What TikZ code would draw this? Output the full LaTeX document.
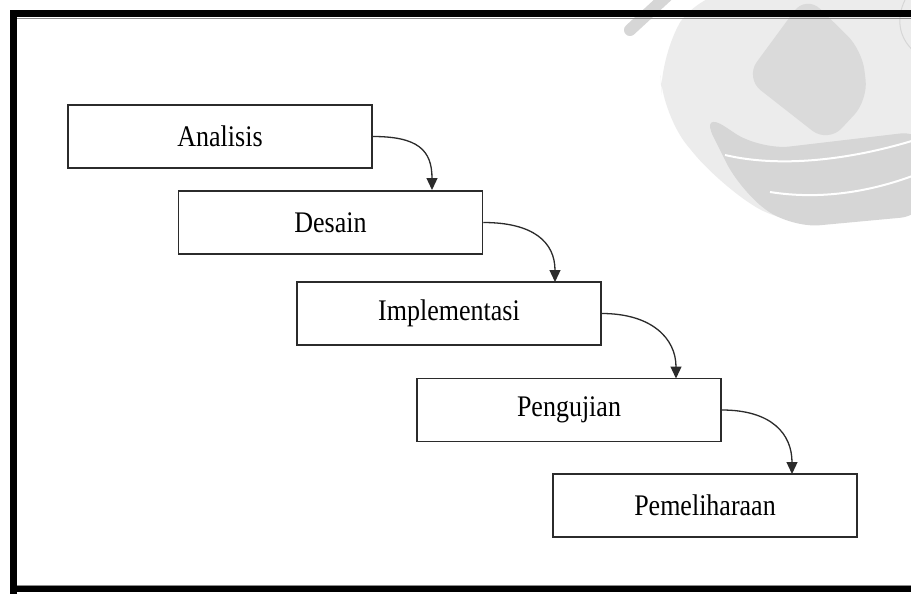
\documentclass[tikz,border=0pt]{standalone}
\usepackage{fontspec}
\setmainfont{Liberation Serif}
\usetikzlibrary{arrows.meta}
\definecolor{wmA}{HTML}{ECECEC}
\definecolor{wmB}{HTML}{DADADA}
\definecolor{wmC}{HTML}{D6D6D6}
\definecolor{boxline}{HTML}{2B2B2B}
\newcommand{\stagetext}[1]{\scalebox{1}[1.15]{#1}}
\tikzset{
  stage/.style={draw=boxline, line width=1.5pt, fill=white, minimum width=304pt, minimum height=63pt, inner sep=0pt, font=\fontsize{26}{29}\selectfont},
  flow/.style={draw=boxline, line width=1.3pt, -{Triangle[length=12pt,width=11pt]}},
}
\begin{document}
\begin{tikzpicture}[x=1pt,y=-1pt]
\useasboundingbox (0,0) rectangle (911,594);
\fill[white] (0,0) rectangle (911,594);
% watermark (faint logo)
\begin{scope}
\clip (0,0) rectangle (911,594);
\fill[wmA, rounded corners=40pt] (700,-10) -- (930,-10) -- (930,210) -- (790,228) -- (720,185) -- (662,115) -- (660,55) -- cycle;
\fill[wmC, rounded corners=30pt] (700,110) -- (760,150) -- (930,130) -- (930,215) -- (790,228) -- (740,190) -- cycle;
\draw[white, line width=2pt] (725,155) .. controls (780,168) and (850,160) .. (915,140);
\draw[white, line width=2pt] (770,192) .. controls (820,200) and (870,192) .. (915,175);
\fill[wmB, rounded corners=20pt] (806,-5) -- (745,78) -- (828,143) -- (868,100) -- (862,50) -- cycle;
\draw[wmC, line width=12pt, line cap=round] (630,30) -- (668,-5);
\draw[wmC, line width=1pt] (905,0) .. controls (895,20) and (900,40) .. (915,52);
\end{scope}
% frame
\draw[black, line width=7pt] (13.5,930) -- (13.5,13.5) -- (930,13.5);
\draw[black!45, line width=1.5pt] (17,18.5) -- (930,18.5);
\draw[black, line width=6pt] (10,589) -- (930,589);
\draw[black!45, line width=1.5pt] (17,585.5) -- (930,585.5);
% stages
\node[stage] (a) at (220,136.5) {\stagetext{Analisis}};
\node[stage] (b) at (330.5,222.5) {\stagetext{Desain}};
\node[stage] (c) at (449,313.5) {\stagetext{Implementasi}};
\node[stage] (d) at (569,410) {\stagetext{Pengujian}};
\node[stage] (e) at (705,505.5) {\stagetext{Pemeliharaan}};
% turning points above the target boxes
\coordinate (tb) at (432,190);
\coordinate (tc) at (555,282);
\coordinate (td) at (676,378.5);
\coordinate (te) at (792,474);
% connectors
\draw[flow] (a.east) .. controls ++(45,0) and ++(0,-40) .. (tb);
\draw[flow] (b.east) .. controls ++(50,0) and ++(0,-40) .. (tc);
\draw[flow] (c.east) .. controls ++(50,0) and ++(0,-40) .. (td);
\draw[flow] (d.east) .. controls ++(50,0) and ++(0,-40) .. (te);
\end{tikzpicture}
\end{document}
